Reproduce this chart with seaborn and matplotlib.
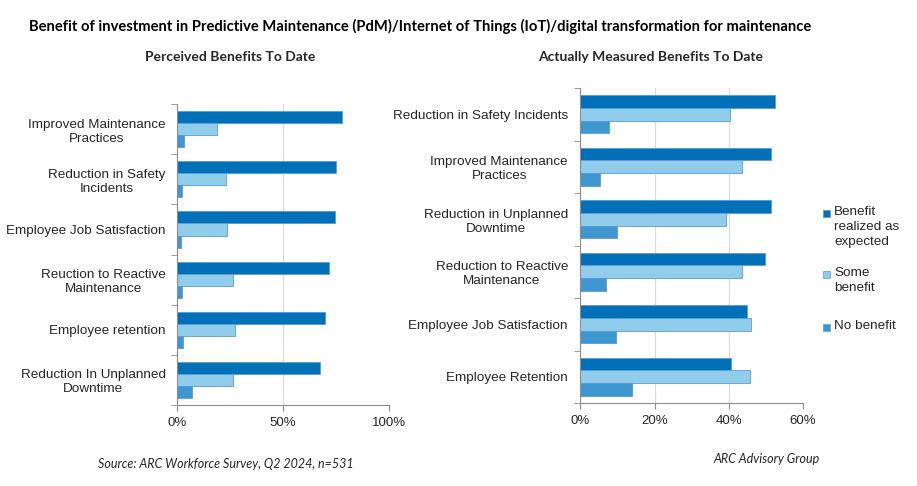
import matplotlib
matplotlib.use("Agg")
import matplotlib.pyplot as plt
import seaborn as sns
import pandas as pd
from matplotlib.ticker import PercentFormatter, FixedLocator
from matplotlib.patches import Rectangle

# perceived benefits (left)
perceived_cats = ["Improved Maintenance\nPractices", "Reduction in Safety\nIncidents",
                  "Employee Job Satisfaction", "Reuction to Reactive\nMaintenance",
                  "Employee retention", "Reduction In Unplanned\nDowntime"]
perceived_realized = [78, 75, 74.7, 72, 70, 67.5]
perceived_some = [19, 23, 23.7, 26.4, 27.5, 26.4]
perceived_none = [3.3, 2.5, 2, 2.5, 3, 7]

# actually measured benefits (right)
measured_cats = ["Reduction in Safety Incidents", "Improved Maintenance\nPractices",
                 "Reduction in Unplanned\nDowntime", "Reduction to Reactive\nMaintenance",
                 "Employee Job Satisfaction", "Employee Retention"]
measured_realized = [52.6, 51.3, 51.3, 49.7, 45, 40.6]
measured_some = [40.3, 43.5, 39.2, 43.5, 46, 45.8]
measured_none = [7.6, 5.4, 9.9, 7.0, 9.5, 14]

series = ["Benefit\nrealized as\nexpected", "Some\nbenefit", "No benefit"]
colors = ["#0070B8", "#8FCDEB", "#3E97D1"]


def to_long(cats, a, b, c):
    rows = []
    for name, vals in zip(series, [a, b, c]):
        for cat, v in zip(cats, vals):
            rows.append({"cat": cat, "series": name, "value": v})
    return pd.DataFrame(rows)


sns.set_style("white")
plt.rcParams["font.family"] = ["Liberation Sans", "DejaVu Sans"]

fig = plt.figure(figsize=(9.17, 4.86), dpi=100)
ax1 = fig.add_axes([0.193, 0.1667, 0.231, 0.619])
ax2 = fig.add_axes([0.633, 0.1708, 0.2424, 0.648])

grid_c = "#D9D9D9"
spine_c = "#8C8C8C"
edge_c = "#5B9BD5"


def draw(ax, df, cats, xmax, step, pad):
    sns.barplot(data=df, y="cat", x="value", hue="series", order=cats,
                hue_order=series, palette=colors, saturation=1, width=0.72,
                orient="h", edgecolor=edge_c, linewidth=0.6, ax=ax, legend=False)
    ax.set_xlim(0, xmax)
    ax.set_ylim(len(cats) - 0.5, -0.5)
    ax.set_xticks([i * step for i in range(int(xmax / step) + 1)])
    ax.xaxis.set_major_formatter(PercentFormatter(decimals=0))
    ax.grid(axis="x", color=grid_c, linewidth=0.8)
    ax.set_axisbelow(True)
    for s in ["top", "right"]:
        ax.spines[s].set_visible(False)
    for s in ["left", "bottom"]:
        ax.spines[s].set_color(spine_c)
        ax.spines[s].set_linewidth(0.8)
    ax.set_xlabel("")
    ax.set_ylabel("")
    ax.tick_params(axis="x", length=4, color=spine_c, labelsize=9.5,
                   labelcolor="#262626", pad=5, bottom=True)
    ax.tick_params(axis="y", length=0, labelsize=9.7, labelcolor="#262626", pad=pad)
    ax.yaxis.set_minor_locator(FixedLocator([i - 0.5 for i in range(len(cats) + 1)]))
    ax.tick_params(axis="y", which="minor", length=4, color=spine_c, left=True)
    for lab in ax.get_yticklabels():
        lab.set_multialignment("center")


draw(ax1, to_long(perceived_cats, perceived_realized, perceived_some, perceived_none),
     perceived_cats, 100, 50, 8)
draw(ax2, to_long(measured_cats, measured_realized, measured_some, measured_none),
     measured_cats, 60, 20, 9)

# legend, Excel style: square aligned with the first text line
W, H = 917, 486
legend_rows = [213, 274, 327]  # pixel y of the first line of each entry
for name, c, y in zip(series, colors, legend_rows):
    fig.add_artist(Rectangle((823 / W, 1 - (y + 3.5) / H), 7 / W, 7 / H,
                             transform=fig.transFigure, facecolor=c,
                             edgecolor=edge_c, linewidth=0.5))
    fig.text(834 / W, 1 - (y - 7) / H, name, ha="left", va="top", fontsize=9.7,
             color="#262626", linespacing=1.35)

head = ["Lato", "DejaVu Sans"]
fig.text(0.458, 0.946, "Benefit of investment in Predictive Maintenance (PdM)/Internet of Things (IoT)/digital transformation for maintenance",
         ha="center", va="center", fontsize=10.6, fontweight="bold", color="black",
         family=head)
fig.text(0.251, 0.883, "Perceived Benefits To Date", ha="center", va="center",
         fontsize=10, fontweight="bold", family=head)
fig.text(0.709, 0.883, "Actually Measured Benefits To Date", ha="center", va="center",
         fontsize=10, fontweight="bold", family=head)
fig.text(0.246, 0.045, "Source: ARC Workforce Survey, Q2 2024, n=531", ha="center",
         va="center", fontsize=9, style="italic", family=head)
fig.text(0.836, 0.056, "ARC Advisory Group", ha="center", va="center",
         fontsize=9, style="italic", family=head)

fig.savefig("out.png", dpi=100)
